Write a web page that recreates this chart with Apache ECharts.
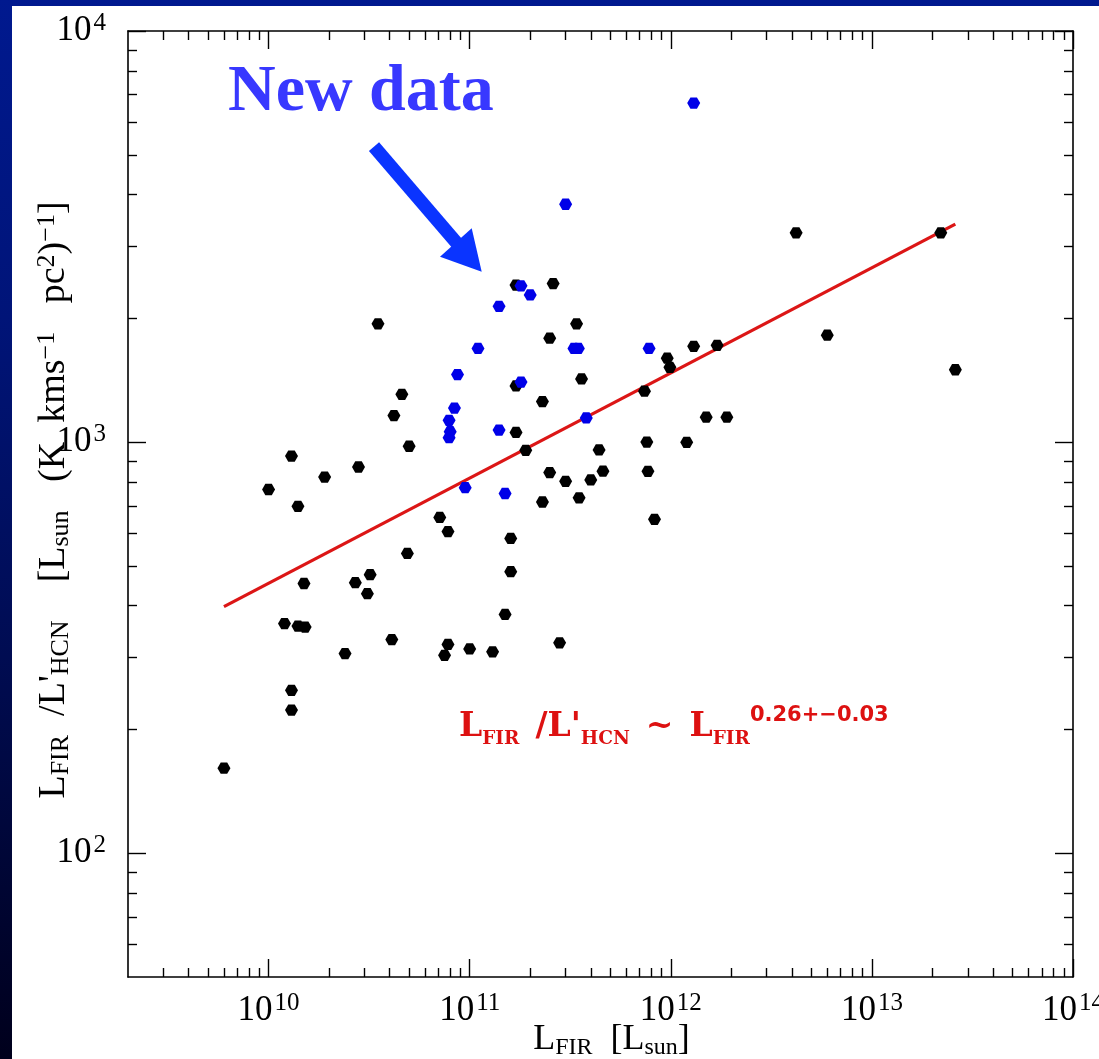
<!DOCTYPE html>
<html>
<head>
<meta charset="utf-8">
<script src="https://cdn.jsdelivr.net/npm/echarts@6/dist/echarts.min.js"></script>
<style>
  html, body {
    margin: 0; padding: 0; width: 1099px; height: 1059px; overflow: hidden;
    background: linear-gradient(to bottom, #00198f 0%, #001478 30%, #000c52 62%, #00001c 100%);
  }
  #panel { position: absolute; left: 12px; top: 6px; width: 1087px; height: 1053px; background: #fff; }
  #chart { position: absolute; left: 0; top: 0; width: 1099px; height: 1059px; }
</style>
</head>
<body>
<div id="panel"></div>
<div id="chart"></div>
<script>
// Galaxy sample: far-infrared luminosity (L_sun) and the L_FIR / L'_HCN ratio
const sampleLfir = [
  6.0e9, 1.0e10, 1.3e10, 1.4e10, 1.5e10, 1.2e10, 1.4e10, 1.52e10, 1.3e10, 1.3e10,
  1.9e10, 2.8e10, 2.4e10, 3.5e10, 2.7e10, 3.1e10, 3.2e10, 4.1e10, 4.2e10, 4.6e10,
  5.0e10, 4.9e10, 7.1e10, 7.8e10, 7.8e10, 7.5e10, 1.0e11, 1.3e11, 1.5e11, 1.6e11,
  1.6e11, 1.7e11, 1.7e11, 1.7e11, 1.9e11, 2.3e11, 2.5e11, 2.6e11, 2.3e11, 2.5e11,
  2.8e11, 3.0e11, 3.4e11, 3.5e11, 3.6e11, 4.0e11, 4.4e11, 4.6e11, 7.4e11, 7.6e11,
  7.7e11, 8.3e11, 9.6e11, 9.9e11, 1.2e12, 1.3e12, 1.5e12, 1.7e12, 1.9e12, 4.2e12,
  6.0e12, 2.2e13, 2.6e13
];
const sampleRatio = [
  161, 767, 925, 698, 453, 362, 357, 355, 249, 223,
  822, 870, 306, 1940, 455, 428, 476, 331, 1160, 1307,
  977, 536, 656, 606, 322, 303, 314, 309, 381, 484,
  583, 1370, 2410, 1056, 955, 1255, 1790, 2430, 715, 843,
  325, 803, 1940, 732, 1425, 809, 957, 850, 1330, 1000,
  849, 649, 1600, 1520, 999, 1710, 1150, 1720, 1150, 3230,
  1820, 3230, 1500
];

// Newly observed galaxies
const newLfir = [
  1.3e12, 3.0e11, 1.4e11, 1.8e11, 2.0e11, 1.1e11, 8.7e10, 8.4e10, 7.9e10, 8.0e10,
  7.9e10, 1.4e11, 9.5e10, 1.5e11, 1.8e11, 3.3e11, 3.47e11, 3.8e11, 7.8e11
];
const newRatio = [
  6680, 3790, 2140, 2400, 2280, 1690, 1460, 1210, 1130, 1060,
  1025, 1070, 775, 750, 1400, 1690, 1690, 1145, 1690
];

// Power-law fit L_FIR/L'_HCN ~ L_FIR^0.26, drawn across the sampled range
const fitLfir = [6.0e9, 2.6e13];
const fitRatio = [398, 3390];

// Axis ranges and ticks
const xRange = [2e9, 1e14];
const yRange = [50, 1e4];
const xMajorTicks = [1e10, 1e11, 1e12, 1e13, 1e14];
const yMajorTicks = [1e2, 1e3, 1e4];
const minorSteps = [2, 3, 4, 5, 6, 7, 8, 9];

function minorTicks(range) {
  const out = [];
  const lo = Math.floor(Math.log10(range[0]));
  const hi = Math.ceil(Math.log10(range[1]));
  for (let d = lo; d < hi; d++) {
    minorSteps.forEach(function (m) {
      const v = m * Math.pow(10, d);
      if (v > range[0] && v < range[1]) out.push(v);
    });
  }
  return out;
}
const xMinorTicks = minorTicks(xRange);
const yMinorTicks = minorTicks(yRange);

const serif = 'Liberation Serif';
const powRich = {
  b: { fontFamily: serif, fontSize: 35, lineHeight: 40, color: '#000' },
  s: { fontFamily: serif, fontSize: 25, lineHeight: 12, verticalAlign: 'top', color: '#000', padding: [0, 0, 0, 2] }
};
function powLabel(v) {
  return '{b|10}{s|' + Math.round(Math.log10(v)) + '}';
}

function logAxis(position, range, ticks, tickLen, showLine, labelTicks, margin) {
  return {
    type: 'log', logBase: 10, gridIndex: 0, position: position, offset: 0,
    min: range[0], max: range[1],
    axisLine: { show: showLine, onZero: false, lineStyle: { color: '#000', width: 1.6 } },
    axisTick: { show: true, inside: true, length: tickLen, customValues: ticks,
                lineStyle: { color: '#000', width: 1.4 } },
    axisLabel: labelTicks
      ? { show: true, customValues: labelTicks, formatter: powLabel, rich: powRich, margin: margin }
      : { show: false },
    minorTick: { show: false },
    splitLine: { show: false },
    nameMoveOverlap: false
  };
}

const nameRich = {
  m: { fontFamily: serif, fontSize: 36, lineHeight: 40, color: '#000' },
  sub: { fontFamily: serif, fontSize: 24, lineHeight: 20, verticalAlign: 'bottom', color: '#000' },
  sup: { fontFamily: serif, fontSize: 24, lineHeight: 8, verticalAlign: 'top', color: '#000' }
};
const yNameRich = {
  m: { fontFamily: serif, fontSize: 38, lineHeight: 40, color: '#000' },
  sub: { fontFamily: serif, fontSize: 26, lineHeight: 20, verticalAlign: 'bottom', color: '#000' },
  sup: { fontFamily: serif, fontSize: 26, lineHeight: 8, verticalAlign: 'top', color: '#000' }
};

const xBottom = logAxis('bottom', xRange, xMajorTicks, 18, true, xMajorTicks, 14);
xBottom.name = '{m|L}{sub|FIR}{m|  [L}{sub|sun}{m|]}';
xBottom.nameLocation = 'middle';
xBottom.nameGap = 43;
xBottom.nameTextStyle = { rich: nameRich, padding: [0, 0, 0, 22] };

const yLeft = logAxis('left', yRange, yMajorTicks, 18, true, yMajorTicks, 22);
yLeft.name = '{m|L}{sub|FIR}{m|  /L\'}{sub|HCN}{m|    [L}{sub|sun}{m|   (K  kms}{sup|\u22121}{m|   pc}{sup|2}{m|)}{sup|\u22121}{m|]}';
yLeft.nameLocation = 'middle';
yLeft.nameRotate = 90;
yLeft.nameGap = 54;
yLeft.nameTextStyle = { rich: yNameRich, padding: [0, 0, 0, 8] };

const hexagon = 'path://M0,866L500,0L1500,0L2000,866L1500,1732L500,1732Z';

const eqRed = '#dd1111';

const option = {
  backgroundColor: 'transparent',
  animation: false,
  grid: { left: 128, right: 26, top: 31, bottom: 82, containLabel: false, outerBoundsMode: 'none' },
  xAxis: [
    xBottom,
    logAxis('bottom', xRange, xMinorTicks, 9, false, null),
    logAxis('top', xRange, xMajorTicks, 18, true, null),
    logAxis('top', xRange, xMinorTicks, 9, false, null)
  ],
  yAxis: [
    yLeft,
    logAxis('left', yRange, yMinorTicks, 9, false, null),
    logAxis('right', yRange, yMajorTicks, 18, true, null),
    logAxis('right', yRange, yMinorTicks, 9, false, null)
  ],
  series: [
    {
      name: 'fit', type: 'line', xAxisIndex: 0, yAxisIndex: 0, z: 2,
      data: fitLfir.map(function (x, i) { return [x, fitRatio[i]]; }),
      symbol: 'none', silent: true,
      lineStyle: { color: '#dc1616', width: 3.3 }
    },
    {
      name: 'sample', type: 'scatter', xAxisIndex: 0, yAxisIndex: 0, z: 3,
      data: sampleLfir.map(function (x, i) { return [x, sampleRatio[i]]; }),
      symbol: hexagon, symbolSize: [13, 11.3],
      itemStyle: { color: '#000', opacity: 1 }
    },
    {
      name: 'new', type: 'scatter', xAxisIndex: 0, yAxisIndex: 0, z: 4,
      data: newLfir.map(function (x, i) { return [x, newRatio[i]]; }),
      symbol: hexagon, symbolSize: [13, 11.3],
      itemStyle: { color: '#0000e8', opacity: 1 }
    }
  ],
  graphic: [
    {
      type: 'text', x: 228, y: 93, z: 10,
      style: { text: 'New data', fontFamily: serif, fontWeight: 'bold', fontSize: 66,
               fill: '#3838ff', verticalAlign: 'middle', align: 'left' }
    },
    {
      type: 'line', z: 10,
      shape: { x1: 374, y1: 146.7, x2: 458, y2: 244.5 },
      style: { stroke: '#0a34ff', lineWidth: 13.4 }
    },
    {
      type: 'polygon', z: 10,
      shape: { points: [[440, 256.7], [471.7, 228.3], [481.7, 271.7]] },
      style: { fill: '#0a34ff' }
    },
    {
      type: 'text', x: 459, y: 705, z: 10,
      style: {
        text: '{m|L}{sub|FIR}{sp| }{m|/L\'}{sub|HCN}{sp| }{m|~}{sp| }{m|L}{sub|FIR}{sup|0.26+\u22120.03}',
        verticalAlign: 'top', align: 'left', fill: eqRed,
        rich: {
          m: { fontFamily: 'DejaVu Serif', fontWeight: 'bold', fontSize: 33, lineHeight: 44, fill: eqRed },
          sp: { fontFamily: 'DejaVu Serif', fontWeight: 'bold', fontSize: 46, lineHeight: 10, fill: eqRed },
          sub: { fontFamily: 'DejaVu Serif', fontWeight: 'bold', fontSize: 18.5, lineHeight: 14, verticalAlign: 'bottom', fill: eqRed },
          sup: { fontFamily: 'DejaVu Sans', fontWeight: 'bold', fontSize: 21, lineHeight: 17, verticalAlign: 'top', fill: eqRed }
        }
      }
    }
  ]
};

const chart = echarts.init(document.getElementById('chart'), null, { renderer: 'canvas' });
chart.setOption(option);
</script>
</body>
</html>
